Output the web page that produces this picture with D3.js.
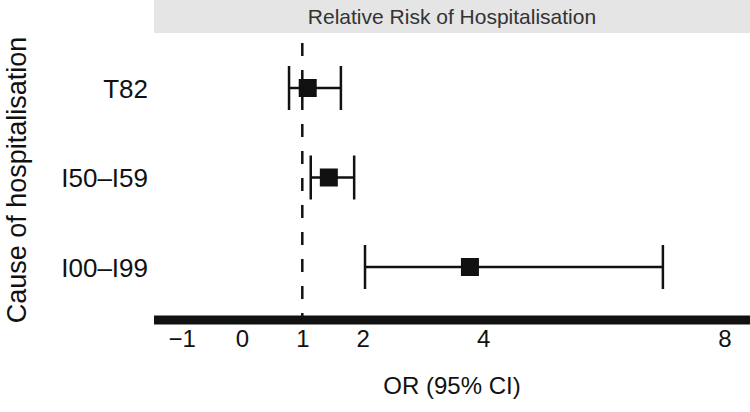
<!DOCTYPE html>
<html><head><meta charset="utf-8">
<script src="https://cdn.jsdelivr.net/npm/d3@7"></script>
<style>body{margin:0;background:#fff}svg{display:block}</style>
</head><body>
<svg id="c" width="750" height="412"></svg>
<script>
const categories = ["T82", "I50\u2013I59", "I00\u2013I99"];
const estimates = [1.09, 1.44, 3.78];
const lower = [0.78, 1.14, 2.04];
const upper = [1.64, 1.86, 6.98];
const tickValues = [-1, 0, 1, 2, 4, 8];
const refValue = 1;

const svg = d3.select("#c");
const font = "'Liberation Sans', Arial, sans-serif";
const panel = {left: 154, right: 750, top: 33, bottom: 320};

const x = d3.scaleLinear().domain([0, 8]).range([242, 724.4]);
const y = d3.scalePoint().domain(categories).range([88, 267]);

// strip
svg.append("rect").attr("x", panel.left).attr("y", 0)
  .attr("width", panel.right - panel.left).attr("height", panel.top)
  .attr("fill", "#e5e5e5");
svg.append("text").attr("x", (panel.left + panel.right) / 2).attr("y", 24)
  .attr("text-anchor", "middle").attr("font-family", font).attr("font-size", 21)
  .attr("fill", "#333").text("Relative Risk of Hospitalisation");

// reference dashed line
svg.append("line").attr("x1", x(refValue)).attr("x2", x(refValue))
  .attr("y1", panel.top).attr("y2", panel.bottom)
  .attr("stroke", "#111").attr("stroke-width", 2.5)
  .attr("stroke-dasharray", "13,14").attr("stroke-dashoffset", 17);

// error bars
const capH = 22;
const g = svg.append("g");
categories.forEach((c, i) => {
  const yy = y(c);
  g.append("line").attr("x1", x(lower[i])).attr("x2", x(upper[i]))
    .attr("y1", yy).attr("y2", yy).attr("stroke", "#111").attr("stroke-width", 2.5);
  [lower[i], upper[i]].forEach(v => {
    g.append("line").attr("x1", x(v)).attr("x2", x(v))
      .attr("y1", yy - capH).attr("y2", yy + capH)
      .attr("stroke", "#111").attr("stroke-width", 2.5);
  });
  g.append("rect").attr("x", x(estimates[i]) - 9).attr("y", yy - 9)
    .attr("width", 18).attr("height", 18).attr("fill", "#111");
});

// x axis
const xAxis = d3.axisBottom(x).tickValues(tickValues).tickSize(0).tickPadding(0)
  .tickFormat(d => d < 0 ? "\u2212" + Math.abs(d) : d);
const ax = svg.append("g").attr("transform", `translate(0,${panel.bottom})`).call(xAxis);
ax.select(".domain").remove();
ax.selectAll("text").attr("font-family", font).attr("font-size", 24).attr("fill", "#111")
  .attr("dy", null).attr("y", 27);
svg.append("line").attr("x1", panel.left).attr("x2", panel.right)
  .attr("y1", panel.bottom).attr("y2", panel.bottom)
  .attr("stroke", "#111").attr("stroke-width", 9);

// y axis labels
const yAxis = d3.axisLeft(y).tickSize(0).tickPadding(6);
const ay = svg.append("g").attr("transform", `translate(${panel.left},0)`).call(yAxis);
ay.select(".domain").remove();
ay.selectAll("text").attr("font-family", font).attr("font-size", 26).attr("fill", "#111")
  .attr("x", -6).attr("dy", "0.36em");

// titles
svg.append("text").attr("x", (panel.left + panel.right) / 2).attr("y", 394)
  .attr("text-anchor", "middle").attr("font-family", font).attr("font-size", 24)
  .attr("fill", "#111").text("OR (95% CI)");
svg.append("text").attr("transform", `translate(26,180) rotate(-90)`)
  .attr("text-anchor", "middle").attr("font-family", font).attr("font-size", 27)
  .attr("fill", "#111").text("Cause of hospitalisation");
</script>
</body></html>
